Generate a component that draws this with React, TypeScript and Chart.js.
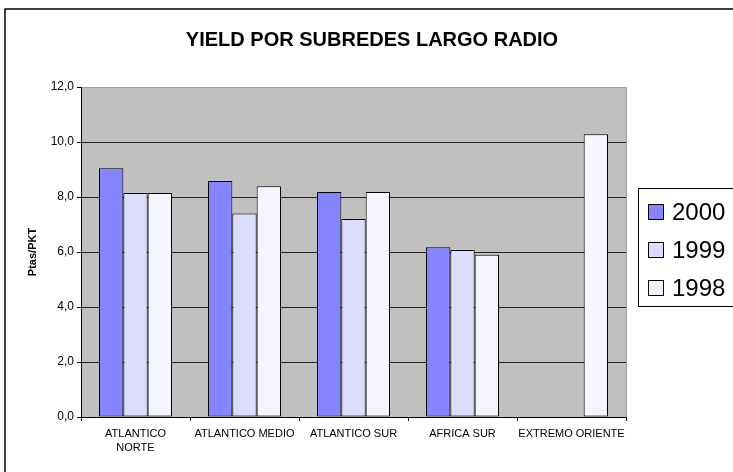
import React, { useEffect, useRef } from "react";
import { Chart, registerables } from "chart.js";

Chart.register(...registerables);

const categories: (string | string[])[] = [
  ["ATLANTICO", "NORTE"],
  "ATLANTICO MEDIO",
  "ATLANTICO SUR",
  "AFRICA SUR",
  "EXTREMO ORIENTE",
];
const series2000: (number | null)[] = [9.05, 8.58, 8.18, 6.17, null];
const series1999: (number | null)[] = [8.15, 7.4, 7.2, 6.07, null];
const series1998: (number | null)[] = [8.15, 8.39, 8.18, 5.9, 10.28];
const seriesLabels = ["2000", "1999", "1998"];
const seriesColors = ["#8585ff", "#dcdcfc", "#f5f5ff"];
const yMin = 0;
const yMax = 12;
const yStep = 2;
const chartTitle = "YIELD POR SUBREDES LARGO RADIO";
const yTitle = "Ptas/PKT";

const FONT = "'Liberation Sans', Arial, sans-serif";

export default function App() {
  const ref = useRef<HTMLCanvasElement | null>(null);

  useEffect(() => {
    if (!ref.current) return;

    const decor = {
      id: "decor",
      beforeDraw(chart: any) {
        const { ctx, chartArea } = chart;
        ctx.save();
        // outer frame
        ctx.strokeStyle = "#000";
        ctx.lineWidth = 1.5;
        ctx.strokeRect(5, 9, 740, 480);
        // plot background
        ctx.fillStyle = "#c0c0c0";
        ctx.fillRect(chartArea.left, chartArea.top, chartArea.right - chartArea.left, chartArea.bottom - chartArea.top);
        ctx.strokeStyle = "#a0a0a0";
        ctx.lineWidth = 1;
        ctx.beginPath();
        ctx.moveTo(chartArea.right + 0.5, chartArea.top);
        ctx.lineTo(chartArea.right + 0.5, chartArea.bottom);
        ctx.stroke();
        ctx.restore();
      },
      afterDraw(chart: any) {
        const { ctx, chartArea } = chart;
        ctx.save();
        // title
        ctx.fillStyle = "#000";
        ctx.font = `bold 20px ${FONT}`;
        ctx.textAlign = "center";
        ctx.textBaseline = "middle";
        ctx.fillText(chartTitle, 372, 40);
        // y title
        ctx.save();
        ctx.translate(33, (chartArea.top + chartArea.bottom) / 2);
        ctx.rotate(-Math.PI / 2);
        ctx.font = `bold 11px ${FONT}`;
        ctx.fillText(yTitle, 0, 0);
        ctx.restore();
        // legend
        ctx.strokeStyle = "#000";
        ctx.lineWidth = 1;
        ctx.strokeRect(638.5, 188.5, 120, 118);
        ctx.font = `24px ${FONT}`;
        ctx.textAlign = "left";
        chart.data.datasets.forEach((ds: any, i: number) => {
          const cy = 212 + i * 38;
          ctx.fillStyle = ds.backgroundColor;
          ctx.fillRect(648, cy - 8, 16, 16);
          ctx.strokeStyle = "#000";
          ctx.strokeRect(648.5, cy - 7.5, 15, 15);
          ctx.fillStyle = "#000";
          ctx.fillText(ds.label, 672, cy + 1);
        });
        ctx.restore();
      },
    };

    const chart = new Chart(ref.current, {
      type: "bar",
      data: {
        labels: categories,
        datasets: [
          { label: seriesLabels[0], data: series2000, backgroundColor: seriesColors[0] },
          { label: seriesLabels[1], data: series1999, backgroundColor: seriesColors[1] },
          { label: seriesLabels[2], data: series1998, backgroundColor: seriesColors[2] },
        ].map((d) => ({
          ...d,
          borderColor: "#000",
          borderWidth: 1,
          borderSkipped: false,
          categoryPercentage: 0.67,
          barPercentage: 1,
        })),
      },
      options: {
        responsive: false,
        animation: false,
        devicePixelRatio: 1,
        layout: { padding: { top: 87, right: 107, left: 0, bottom: 0 } },
        plugins: {
          legend: { display: false },
          title: { display: false },
          tooltip: { enabled: false },
        },
        scales: {
          x: {
            grid: {
              offset: true,
              drawOnChartArea: false,
              drawTicks: true,
              tickLength: 4,
              tickColor: "#000",
            },
            border: { color: "#000", width: 1 },
            ticks: {
              color: "#000",
              font: { family: FONT, size: 11, lineHeight: 1.25 },
              padding: 6,
              maxRotation: 0,
              autoSkip: false,
            },
            afterFit(scale: any) {
              scale.height = 55;
            },
          },
          y: {
            min: yMin,
            max: yMax,
            grid: {
              color: (c: any) => (c.tick && c.tick.value === yMax ? "#a0a0a0" : "#202020"),
              tickColor: "#000",
              tickLength: 4,
            },
            border: { color: "#000", width: 1 },
            ticks: {
              stepSize: yStep,
              color: "#000",
              font: { family: FONT, size: 12 },
              padding: 3,
              callback: (v: any) => Number(v).toFixed(1).replace(".", ","),
            },
            afterFit(scale: any) {
              scale.width = 81;
            },
          },
        },
      },
      plugins: [decor],
    } as any);

    return () => chart.destroy();
  }, []);

  return (
    <div style={{ position: "fixed", left: 0, top: 0, width: 733, height: 472, background: "#fff" }}>
      <canvas ref={ref} width={733} height={472} />
    </div>
  );
}
